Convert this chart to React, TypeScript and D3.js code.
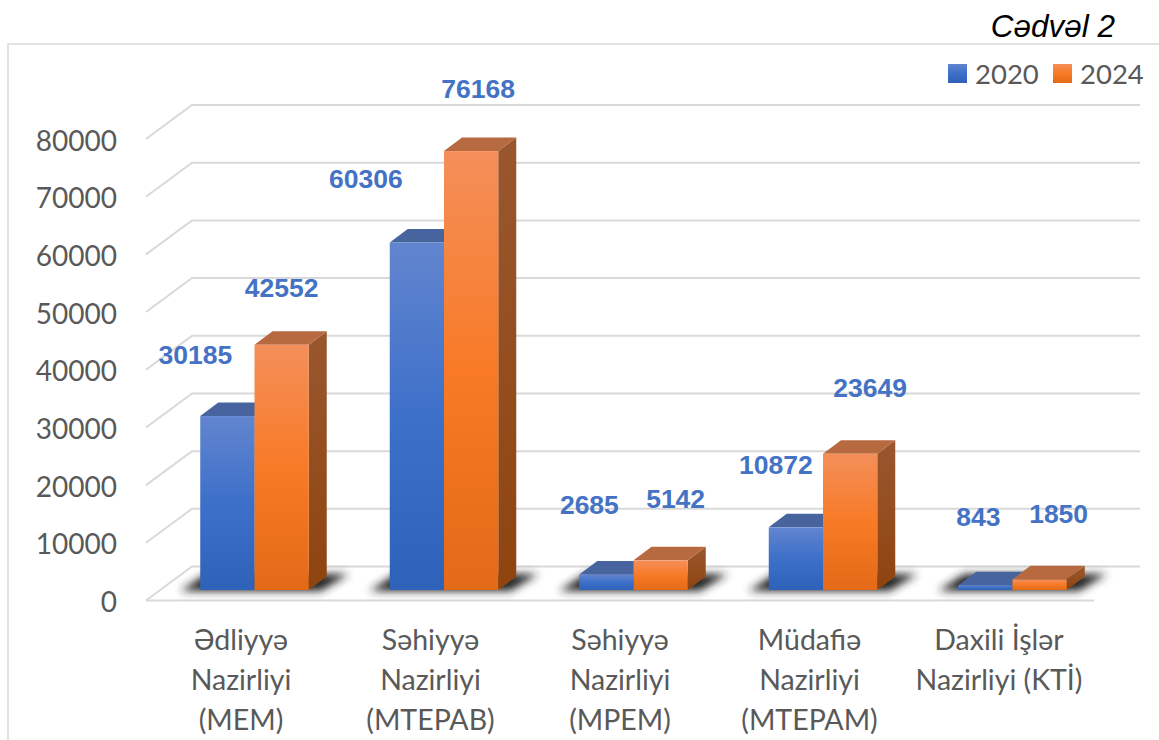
import * as d3 from 'd3'

const categories = [
  ['Ədliyyə', 'Nazirliyi', '(MEM)'],
  ['Səhiyyə', 'Nazirliyi', '(MTEPAB)'],
  ['Səhiyyə', 'Nazirliyi', '(MPEM)'],
  ['Müdafiə', 'Nazirliyi', '(MTEPAM)'],
  ['Daxili İşlər', 'Nazirliyi (KTİ)'],
]
const seriesNames = ['2020', '2024']
const values2020 = [30185, 60306, 2685, 10872, 843]
const values2024 = [42552, 76168, 5142, 23649, 1850]
const yTicks = [0, 10000, 20000, 30000, 40000, 50000, 60000, 70000, 80000]

// hand placed data labels in the original: offset from bar top centre
const labelDx2020 = [-32, -51, -17, -20, -7]
const labelDx2024 = [0, 7, 15, 20, 19]
const labelDy2020 = [-52, -54, -61, -53, -59]
const labelDy2024 = [-48, -53, -52, -57, -56]

const width = 1159
const height = 740
const depthX = 18
const depthY = -13.5
const wallX = 46
const wallY = -34
const barBase = 590

const fontAxis = 'Lato, "Open Sans", sans-serif'
const fontBold = '"Liberation Sans", Arial, sans-serif'

const yFront = d3.scaleLinear().domain([0, 80000]).range([600.5, 139])
const yBar = d3.scaleLinear().domain([0, 80000]).range([barBase, barBase - 461])
const x0 = d3.scaleBand<number>()
  .domain(categories.map((_, i) => i))
  .range([159.75, 1107.25])
  .paddingInner(0.4274)
  .paddingOuter(0.2137)
const x1 = d3.scaleBand<string>().domain(seriesNames).range([0, x0.bandwidth()])

const pts = (p: number[][]) => p.map(d => d.join(',')).join(' ')

const seriesStyle = [
  { grad: 'blueFront', top: '#47649e', side: '#34558f', labelDx: labelDx2020, labelDy: labelDy2020, values: values2020 },
  { grad: 'orangeFront', top: '#b76a40', side: 'url(#orangeSide)', labelDx: labelDx2024, labelDy: labelDy2024, values: values2024 },
]

export default function App() {
  return (
    <svg width={width} height={height} style={{ position: 'absolute', left: 0, top: 0, background: '#fff' }}>
      <defs>
        <linearGradient id="blueFront" x1="0" x2="0" y1="0" y2="1">
          <stop offset="0" stopColor="#6285cf" />
          <stop offset="0.5" stopColor="#3d70c9" />
          <stop offset="1" stopColor="#2e61b8" />
        </linearGradient>
        <linearGradient id="orangeFront" x1="0" x2="0" y1="0" y2="1">
          <stop offset="0" stopColor="#f48f5a" />
          <stop offset="0.5" stopColor="#f87a26" />
          <stop offset="1" stopColor="#e36a17" />
        </linearGradient>
        <linearGradient id="orangeSide" x1="0" x2="0" y1="0" y2="1">
          <stop offset="0" stopColor="#99572f" />
          <stop offset="1" stopColor="#8f440f" />
        </linearGradient>
        <filter id="shadowBlur" x="-30%" y="-80%" width="160%" height="260%">
          <feGaussianBlur stdDeviation="4.5" />
        </filter>
      </defs>

      {/* frame */}
      <path d="M8,740V44H1159" fill="none" stroke="#d9d9d9" strokeWidth={1.5} />
      <text x={1115} y={37} textAnchor="end" fontFamily={fontBold} fontStyle="italic" fontSize={31.5} fill="#000">Cədvəl 2</text>

      {/* walls */}
      {yTicks.map(t => (
        <polyline
          key={t}
          points={pts([[146, yFront(t)], [146 + wallX, yFront(t) + wallY], [1140, yFront(t) + wallY]])}
          fill="none"
          stroke="#d9d9d9"
          strokeWidth={2}
        />
      ))}
      <line x1={146} x2={1094} y1={yFront(0)} y2={yFront(0)} stroke="#d9d9d9" strokeWidth={2} />

      {yTicks.map(t => (
        <text key={t} x={117} y={yFront(t) + 11.5} textAnchor="end" fontFamily={fontAxis} fontSize={28} fill="#595959">{t}</text>
      ))}

      {/* floor shadows */}
      {categories.map((_, i) => {
        const l = x0(i)!
        const r = l + x0.bandwidth()
        return (
          <polygon
            key={i}
            points={pts([[l - 20, barBase + 1], [r + 12, barBase + 1], [r + 40, barBase - 16], [l + 6, barBase - 16]])}
            fill="#222"
            filter="url(#shadowBlur)"
          />
        )
      })}

      {/* bars */}
      {categories.map((_, i) => (
        <g key={i}>
          {seriesNames.map((name, s) => {
            const st = seriesStyle[s]
            const l = x0(i)! + x1(name)!
            const r = l + x1.bandwidth()
            const top = yBar(st.values[i])
            return (
              <g key={name}>
                <polygon points={pts([[r, top], [r + depthX, top + depthY], [r + depthX, barBase + depthY], [r, barBase]])} fill={st.side} />
                <polygon points={pts([[l, top], [l + depthX, top + depthY], [r + depthX, top + depthY], [r, top]])} fill={st.top} />
                <rect x={l} y={top} width={x1.bandwidth()} height={barBase - top} fill={`url(#${st.grad})`} />
              </g>
            )
          })}
        </g>
      ))}

      {/* data labels */}
      {categories.map((_, i) =>
        seriesNames.map((name, s) => {
          const st = seriesStyle[s]
          const cx = x0(i)! + x1(name)! + x1.bandwidth() / 2
          return (
            <text
              key={name + i}
              x={cx + st.labelDx[i]}
              y={yBar(st.values[i]) + st.labelDy[i]}
              textAnchor="middle"
              fontFamily={fontBold}
              fontWeight="bold"
              fontSize={26.5}
              fill="#4472c4"
            >
              {st.values[i]}
            </text>
          )
        })
      )}

      {/* category labels */}
      {categories.map((lines, i) => (
        <text key={i} textAnchor="middle" fontFamily={fontAxis} fontSize={28.5} fill="#595959">
          {lines.map((line, j) => (
            <tspan key={j} x={x0(i)! + x0.bandwidth() / 2 - 13.5} y={650 + j * 40}>{line}</tspan>
          ))}
        </text>
      ))}

      {/* legend */}
      <rect x={948} y={64} width={19} height={19} fill="url(#blueFront)" />
      <text x={975} y={84} fontFamily={fontAxis} fontSize={27.5} fill="#595959">{seriesNames[0]}</text>
      <rect x={1053} y={64} width={19} height={19} fill="url(#orangeFront)" />
      <text x={1080} y={84} fontFamily={fontAxis} fontSize={27.5} fill="#595959">{seriesNames[1]}</text>
    </svg>
  )
}
